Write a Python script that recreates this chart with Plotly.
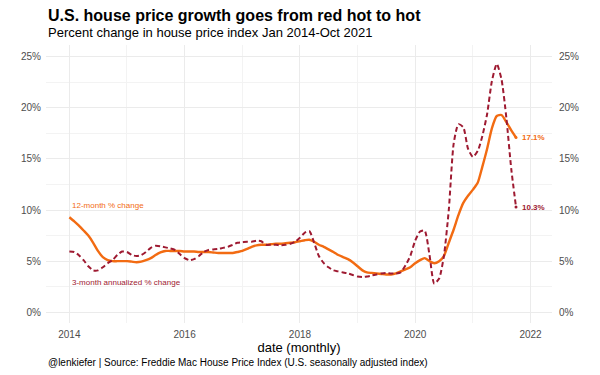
import pandas as pd
import plotly.graph_objects as go

# ---- data ----
dates = pd.date_range("2014-01-01", periods=94, freq="MS")

hpa_12m = [
    9.3, 8.9, 8.5, 8.0, 7.5, 6.8, 6.0, 5.4, 5.1, 5.0, 5.0, 5.0,          # 2014
    5.0, 4.95, 4.9, 4.95, 5.1, 5.3, 5.6, 5.85, 6.0, 6.0, 6.0, 6.0,       # 2015
    5.95, 5.95, 5.95, 5.9, 5.9, 5.9, 5.85, 5.8, 5.8, 5.8, 5.8, 5.9,      # 2016
    6.0, 6.2, 6.4, 6.55, 6.6, 6.6, 6.65, 6.7, 6.7, 6.75, 6.8, 6.85,      # 2017
    6.95, 7.05, 7.1, 6.9, 6.6, 6.4, 6.15, 5.9, 5.6, 5.4, 5.2, 4.9,       # 2018
    4.5, 4.1, 3.9, 3.85, 3.8, 3.75, 3.7, 3.7, 3.8, 4.0, 4.2, 4.4,        # 2019
    4.8, 5.1, 5.3, 5.0, 4.8, 5.0, 5.5, 6.8, 8.1, 9.5, 10.7, 11.4,        # 2020
    12.0, 12.7, 14.2, 16.0, 18.0, 19.2, 19.3, 18.6, 17.8, 17.1,          # 2021
]

hpa_3m = [
    5.95, 5.9, 5.6, 5.1, 4.5, 4.1, 4.1, 4.4, 4.8, 5.1, 5.6, 5.95,        # 2014
    5.9, 5.6, 5.5, 5.6, 5.9, 6.3, 6.5, 6.45, 6.35, 6.25, 6.1, 5.7,       # 2015
    5.3, 5.1, 5.2, 5.5, 5.9, 6.1, 6.15, 6.2, 6.3, 6.4, 6.6, 6.8,         # 2016
    6.85, 6.9, 6.9, 7.0, 6.95, 6.6, 6.6, 6.6, 6.55, 6.6, 6.7, 6.9,       # 2017
    7.3, 7.8, 7.95, 6.8, 5.5, 4.8, 4.4, 4.1, 4.0, 3.9, 3.8, 3.65,        # 2018
    3.5, 3.45, 3.5, 3.6, 3.7, 3.8, 3.85, 3.8, 3.8, 3.9, 4.6, 5.5,        # 2019
    7.0, 7.9, 8.0, 5.6, 2.8, 3.3, 5.5, 10.0, 16.5, 18.4, 18.1, 16.0,     # 2020
    15.2, 15.8, 17.2, 19.4, 22.6, 24.3, 22.8, 19.0, 14.0, 10.3,          # 2021
]

y_ticks = [0, 5, 10, 15, 20, 25]
y_tick_labels = ["0%", "5%", "10%", "15%", "20%", "25%"]
x_ticks = ["2014-01-01", "2016-01-01", "2018-01-01", "2020-01-01", "2022-01-01"]
x_tick_labels = ["2014", "2016", "2018", "2020", "2022"]

title = "U.S. house price growth goes from red hot to hot"
subtitle = "Percent change in house price index Jan 2014-Oct 2021"
caption = "@lenkiefer | Source: Freddie Mac House Price Index (U.S. seasonally adjusted index)"
label_12m = "12-month % change"
label_3m = "3-month annualized % change"

ORANGE = "#f26b12"
DARKRED = "#9e1a31"
FONT = "Liberation Sans, Arial, sans-serif"
GRID = "#ebebeb"
GRID_MINOR = "#f3f3f3"
TICKCOL = "#4d4d4d"

fig = go.Figure()

fig.add_trace(go.Scatter(
    x=dates, y=hpa_12m, mode="lines",
    line=dict(color=ORANGE, width=2.4, shape="spline", smoothing=0.6),
    showlegend=False, hoverinfo="skip",
))
fig.add_trace(go.Scatter(
    x=dates, y=hpa_3m, mode="lines",
    line=dict(color=DARKRED, width=2, dash="5px,3px", shape="spline", smoothing=0.6),
    showlegend=False, hoverinfo="skip",
))
# end points
fig.add_trace(go.Scatter(
    x=[dates[-1], dates[-1]], y=[hpa_12m[-1], hpa_3m[-1]], mode="markers",
    marker=dict(color=[ORANGE, DARKRED], size=3),
    showlegend=False, hoverinfo="skip",
))
# invisible trace on the secondary axis so it shows
fig.add_trace(go.Scatter(
    x=[dates[0]], y=[0], yaxis="y2", mode="markers",
    marker=dict(opacity=0), showlegend=False, hoverinfo="skip",
))

yrange = [-1.05, 26.15]
xrange = ["2013-08-06", "2022-05-17"]
PH = 278  # plot area height in px

fig.update_layout(
    width=600, height=375,
    margin=dict(l=46, r=48, t=45, b=52),
    paper_bgcolor="white", plot_bgcolor="white",
    font=dict(family=FONT, color=TICKCOL, size=10),
    xaxis=dict(
        range=xrange, type="date",
        tickvals=x_ticks, ticktext=x_tick_labels,
        showgrid=True, gridcolor=GRID, gridwidth=1,
        minor=dict(dtick="M12", tick0="2015-01-01", showgrid=True,
                   gridcolor=GRID_MINOR, gridwidth=1),
        zeroline=False, showline=False, ticks="",
        tickfont=dict(size=10, color=TICKCOL), ticklabelstandoff=4,
        title=dict(text="date (monthly)", font=dict(size=13, color="black"), standoff=0),
    ),
    yaxis=dict(
        range=yrange, tickvals=y_ticks, ticktext=y_tick_labels,
        showgrid=True, gridcolor=GRID, gridwidth=1,
        minor=dict(dtick=2.5, tick0=2.5, showgrid=True,
                   gridcolor=GRID_MINOR, gridwidth=1),
        zeroline=False, showline=False, ticks="",
        tickfont=dict(size=10, color=TICKCOL), ticklabelstandoff=4,
    ),
    yaxis2=dict(
        range=yrange, tickvals=y_ticks, ticktext=y_tick_labels,
        overlaying="y", side="right", showgrid=False,
        zeroline=False, showline=False, ticks="",
        tickfont=dict(size=10, color=TICKCOL), ticklabelstandoff=6,
    ),
)

annotations = [
    dict(text="<b>" + title + "</b>", xref="paper", yref="paper",
         x=0.0, y=1 + 29 / PH,
         xanchor="left", yanchor="middle", showarrow=False,
         font=dict(size=16, color="black", family=FONT)),
    dict(text=subtitle, xref="paper", yref="paper",
         x=0.0, y=1 + 13 / PH,
         xanchor="left", yanchor="middle", showarrow=False,
         font=dict(size=13, color="black", family=FONT)),
    dict(text=caption, xref="paper", yref="paper",
         x=0.0, y=-(362 - 323) / PH,
         xanchor="left", yanchor="middle", showarrow=False,
         font=dict(size=10, color="black", family=FONT)),
    dict(text=label_12m, x=dates[0], y=10.4, xref="x", yref="y",
         xanchor="left", yanchor="middle", showarrow=False, xshift=1,
         font=dict(size=8, color=ORANGE, family=FONT)),
    dict(text=label_3m, x=dates[0], y=2.9, xref="x", yref="y",
         xanchor="left", yanchor="middle", showarrow=False, xshift=1,
         font=dict(size=8, color=DARKRED, family=FONT)),
    dict(text="<b>%.1f%%</b>" % hpa_12m[-1], x=dates[-1], y=hpa_12m[-1], xref="x", yref="y",
         xanchor="left", yanchor="middle", showarrow=False, xshift=4,
         font=dict(size=8, color=ORANGE, family=FONT)),
    dict(text="<b>%.1f%%</b>" % hpa_3m[-1], x=dates[-1], y=hpa_3m[-1], xref="x", yref="y",
         xanchor="left", yanchor="middle", showarrow=False, xshift=4,
         font=dict(size=8, color=DARKRED, family=FONT)),
]
fig.update_layout(annotations=annotations)

# remove the browser's default 8px page margin so the 600x375 figure fills the window
fig.write_html("out.html", config={"displayModeBar": False},
               post_script="document.body.style.margin='0px';")
